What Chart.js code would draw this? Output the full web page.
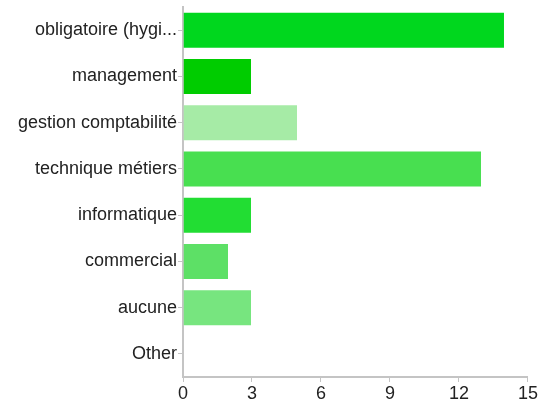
<!DOCTYPE html>
<html>
<head>
<meta charset="utf-8">
<script src="https://cdn.jsdelivr.net/npm/chart.js@4"></script>
<style>
  html, body { margin: 0; padding: 0; background: #fff; }
  #c { display: block; }
</style>
</head>
<body>
<canvas id="c" width="539" height="403"></canvas>
<script>
const categories = ["obligatoire (hygi...", "management", "gestion comptabilité", "technique métiers", "informatique", "commercial", "aucune", "Other"];
const counts = [14, 3, 5, 13, 3, 2, 3, 0];
const barColors = ["#00d71e", "#00cc00", "#a6eba6", "#48df50", "#22dd33", "#5de066", "#77e57f", "#cccccc"];
const xTicks = [0, 3, 6, 9, 12, 15];

document.addEventListener("DOMContentLoaded", () => {
  const font = { family: "'Liberation Sans', Arial, Helvetica, sans-serif", size: 18 };
  new Chart(document.getElementById("c"), {
    type: "bar",
    data: {
      labels: categories,
      datasets: [{
        data: counts,
        backgroundColor: barColors,
        borderColor: "rgba(255,255,255,0.35)",
        borderWidth: 1,
        barPercentage: 0.8,
        categoryPercentage: 1.0
      }]
    },
    options: {
      indexAxis: "y",
      responsive: false,
      animation: false,
      layout: { padding: { top: 7, right: 11, left: 0, bottom: 0 } },
      plugins: { legend: { display: false }, tooltip: { enabled: false } },
      scales: {
        x: {
          min: 0,
          max: 15,
          afterBuildTicks: (axis) => { axis.ticks = xTicks.map(v => ({ value: v })); },
          afterFit: (axis) => { axis.height = 26; },
          grid: { drawOnChartArea: false, tickLength: 5, color: "#c4c4c4" },
          border: { color: "#c4c4c4", width: 2 },
          ticks: { color: "#222", font: font, padding: 1, maxRotation: 0 }
        },
        y: {
          afterFit: (axis) => {
            axis.width = 183;
            axis.paddingTop = 0;
            axis.paddingBottom = 0;
          },
          grid: { drawOnChartArea: false, offset: false, tickLength: 5, color: "#c4c4c4" },
          border: { color: "#c4c4c4", width: 2 },
          ticks: { color: "#222", font: font, padding: 1, autoSkip: false }
        }
      }
    }
  });
});
</script>
</body>
</html>
